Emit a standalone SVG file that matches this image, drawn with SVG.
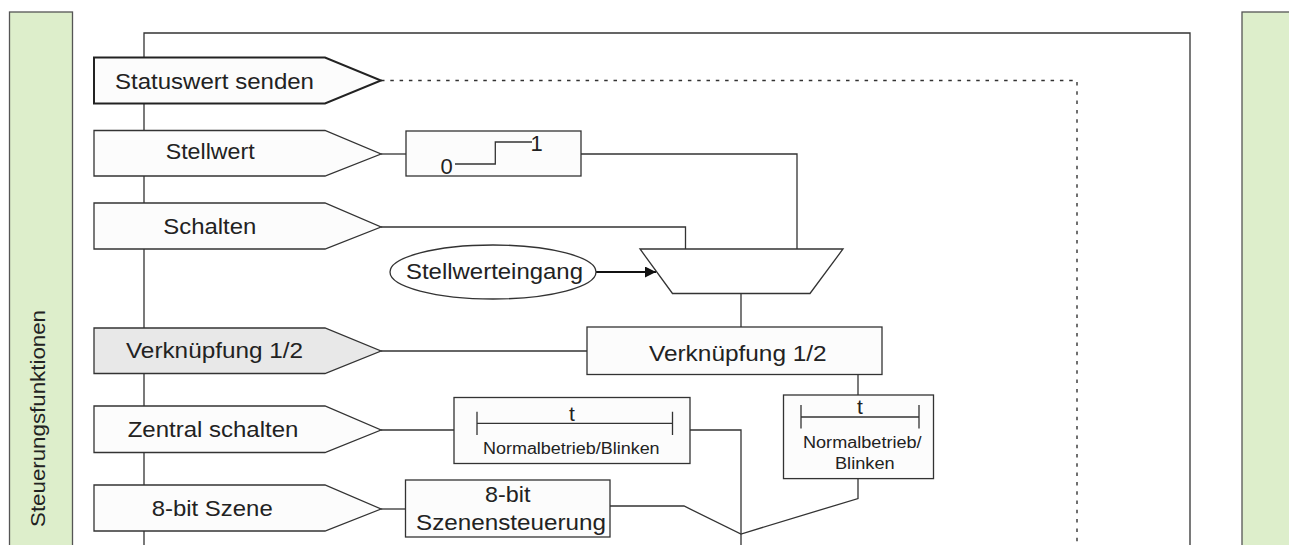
<svg xmlns="http://www.w3.org/2000/svg" width="1289" height="545" viewBox="0 0 1289 545">
<style>
text{font-family:"Liberation Sans",Arial,sans-serif;fill:#222}
.lbl{font-size:22px}
.sm{font-size:16px}
.arr{fill:#fcfcfc;stroke:#333;stroke-width:1.3}
.grey{fill:#e8e8e8}
.box{fill:#fcfcfc;stroke:#333;stroke-width:1.3}
.ln{fill:none;stroke:#333;stroke-width:1.3}
.panel{fill:#ddeecb;stroke:#555;stroke-width:1.3}
</style>
<defs>
<marker id="ah" viewBox="0 0 10 10" refX="10" refY="5" markerWidth="12" markerHeight="11" markerUnits="userSpaceOnUse" orient="auto"><path d="M0,0 L10,5 L0,10 Z" fill="#111"/></marker>
</defs>
<g id="panel-left"><rect class="panel" x="9.5" y="12" width="63" height="540"/>
<text transform="translate(45,527) rotate(-90)" font-size="20" textLength="217" lengthAdjust="spacingAndGlyphs">Steuerungsfunktionen</text></g>
<g id="panel-right"><rect class="panel" x="1242" y="12" width="60" height="540"/></g>
<g id="connectors">
<path class="ln" d="M144,560 V33 H1190 V560"/>
<path d="M381,80.5 H1077 V545" fill="none" stroke="#333" stroke-width="1.4" stroke-dasharray="3.5 5.8"/>
<path class="ln" d="M381,154 H406"/>
<path class="ln" d="M581,154 H797 V249"/>
<path class="ln" d="M381,227 H685.5 V249"/>
<path d="M596,272 H656" fill="none" stroke="#111" stroke-width="1.8" marker-end="url(#ah)"/>
<path class="ln" d="M741,293.5 V327"/>
<path class="ln" d="M381,351 H587"/>
<path class="ln" d="M858,374.5 V395"/>
<path class="ln" d="M381,430 H454"/>
<path class="ln" d="M690,430 H741 V545"/>
<path class="ln" d="M381,509 H405.5"/>
<path class="ln" d="M610,506 H684 L741,534 L858,498.5 V478.6"/>
</g>
<g id="n-statuswert"><path class="arr" style="stroke:#222;stroke-width:2" d="M94,57.5 H325 L381,80.5 L325,103.5 H94 Z"/>
<text class="lbl" x="115" y="89" textLength="199" lengthAdjust="spacingAndGlyphs">Statuswert senden</text></g>
<g id="n-stellwert"><path class="arr" d="M94,130.5 H325 L381,154 L325,176 H94 Z"/>
<text class="lbl" x="165.7" y="159.4" textLength="89" lengthAdjust="spacingAndGlyphs">Stellwert</text></g>
<g id="n-schalten"><path class="arr" d="M94,203 H325 L381,227 L325,249 H94 Z"/>
<text class="lbl" x="163.3" y="234.3" textLength="93" lengthAdjust="spacingAndGlyphs">Schalten</text></g>
<g id="n-verk-in"><path class="arr grey" d="M94,328 H325 L381,351 L325,373.5 H94 Z"/>
<text class="lbl" x="126" y="358.3" textLength="177" lengthAdjust="spacingAndGlyphs">Verknüpfung 1/2</text></g>
<g id="n-zentral"><path class="arr" d="M94,406 H325 L381,430 L325,452.5 H94 Z"/>
<text class="lbl" x="127.7" y="436.7" textLength="170.7" lengthAdjust="spacingAndGlyphs">Zentral schalten</text></g>
<g id="n-8bit"><path class="arr" d="M94,485 H325 L381,509 L325,531 H94 Z"/>
<text class="lbl" x="151.7" y="516" textLength="121" lengthAdjust="spacingAndGlyphs">8-bit Szene</text></g>
<g id="n-step"><rect class="box" x="406" y="131" width="175" height="45"/>
<path class="ln" d="M455,164 H495.3 V142 H532"/>
<text font-size="22" x="440.5" y="173.5">0</text>
<text font-size="22" x="530.5" y="150.5">1</text></g>
<g id="n-stellwerteingang"><ellipse cx="493" cy="272" rx="103" ry="27" fill="#fff" stroke="#333" stroke-width="1.3"/>
<text class="lbl" x="406" y="278.5" textLength="177" lengthAdjust="spacingAndGlyphs">Stellwerteingang</text></g>
<g id="n-mux"><path class="box" style="fill:#fff" d="M640,249 H843 L810,293.5 H672.5 Z"/></g>
<g id="n-verk-box"><rect class="box grey" x="587" y="327" width="295" height="47.5"/>
<text class="lbl" x="649" y="361" textLength="177.7" lengthAdjust="spacingAndGlyphs">Verknüpfung 1/2</text></g>
<g id="n-t1"><rect class="box" x="454" y="397.5" width="236" height="66"/>
<path class="ln" d="M477,423.3 H672.5 M477,411.7 V435 M672.5,411.7 V435"/>
<text font-size="21" x="572" y="421" text-anchor="middle">t</text>
<text class="sm" x="483" y="454" textLength="176.6" lengthAdjust="spacingAndGlyphs">Normalbetrieb/Blinken</text></g>
<g id="n-t2"><rect class="box" x="783.5" y="395" width="150" height="83.6"/>
<path class="ln" d="M801,417 H919 M801,405 V428.6 M919,405 V428.6"/>
<text font-size="21" x="860" y="414" text-anchor="middle">t</text>
<text class="sm" x="803" y="448.4" textLength="118.6" lengthAdjust="spacingAndGlyphs">Normalbetrieb/</text>
<text class="sm" x="835" y="468.8" textLength="59.6" lengthAdjust="spacingAndGlyphs">Blinken</text></g>
<g id="n-szenen"><rect class="box" x="405.5" y="480" width="204.5" height="57"/>
<text class="lbl" x="485" y="502.3" textLength="45.4" lengthAdjust="spacingAndGlyphs">8-bit</text>
<text class="lbl" x="416" y="530" textLength="190" lengthAdjust="spacingAndGlyphs">Szenensteuerung</text></g>
</svg>
